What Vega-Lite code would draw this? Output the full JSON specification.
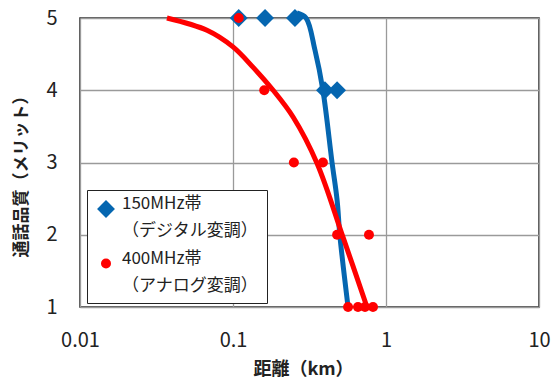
{
  "$schema": "https://vega.github.io/schema/vega-lite/v6.json",
  "width": 459,
  "height": 289,
  "autosize": {"type": "none"},
  "padding": {"left": 80, "top": 18, "right": 16, "bottom": 74},
  "background": "white",
  "config": {
    "font": "Noto Sans CJK JP",
    "view": {"stroke": "#222222", "strokeWidth": 1.5},
    "style": {"guide-label": {"lineHeight": 27}},
    "axis": {
      "domain": false,
      "ticks": false,
      "labelFlush": false,
      "gridColor": "#9a9a9a",
      "gridWidth": 1.3,
      "labelFont": "Noto Sans CJK JP",
      "labelFontSize": 20,
      "labelColor": "#222222",
      "titleFont": "Noto Sans CJK JP",
      "titleFontWeight": "bold",
      "titleColor": "#222222"
    }
  },
  "datasets": {
    "curves": [
      {"series": "150MHz帯", "km": 0.262, "merit": 5.07},
      {"series": "150MHz帯", "km": 0.300, "merit": 5.0},
      {"series": "150MHz帯", "km": 0.343, "merit": 4.56},
      {"series": "150MHz帯", "km": 0.387, "merit": 4.0},
      {"series": "150MHz帯", "km": 0.444, "merit": 3.0},
      {"series": "150MHz帯", "km": 0.479, "merit": 2.48},
      {"series": "150MHz帯", "km": 0.50, "merit": 1.98},
      {"series": "150MHz帯", "km": 0.565, "merit": 1.0},
      {"series": "400MHz帯", "km": 0.037, "merit": 5.0},
      {"series": "400MHz帯", "km": 0.0676, "merit": 4.83},
      {"series": "400MHz帯", "km": 0.100, "merit": 4.6},
      {"series": "400MHz帯", "km": 0.135, "merit": 4.32},
      {"series": "400MHz帯", "km": 0.183, "merit": 4.0},
      {"series": "400MHz帯", "km": 0.247, "merit": 3.63},
      {"series": "400MHz帯", "km": 0.354, "merit": 2.99},
      {"series": "400MHz帯", "km": 0.523, "merit": 1.97},
      {"series": "400MHz帯", "km": 0.751, "merit": 1.0}
    ],
    "points": [
      {"series": "150MHz帯", "km": 0.109, "merit": 5},
      {"series": "150MHz帯", "km": 0.162, "merit": 5},
      {"series": "150MHz帯", "km": 0.254, "merit": 5},
      {"series": "150MHz帯", "km": 0.399, "merit": 4},
      {"series": "150MHz帯", "km": 0.479, "merit": 4},
      {"series": "400MHz帯", "km": 0.109, "merit": 5},
      {"series": "400MHz帯", "km": 0.160, "merit": 4},
      {"series": "400MHz帯", "km": 0.250, "merit": 3},
      {"series": "400MHz帯", "km": 0.387, "merit": 3},
      {"series": "400MHz帯", "km": 0.479, "merit": 2},
      {"series": "400MHz帯", "km": 0.774, "merit": 2},
      {"series": "400MHz帯", "km": 0.565, "merit": 1},
      {"series": "400MHz帯", "km": 0.656, "merit": 1},
      {"series": "400MHz帯", "km": 0.729, "merit": 1},
      {"series": "400MHz帯", "km": 0.822, "merit": 1}
    ]
  },
  "encoding": {
    "x": {
      "field": "km",
      "type": "quantitative",
      "scale": {"type": "log", "domain": [0.01, 10]},
      "axis": {"values": [0.01, 0.1, 1, 10], "format": "~g", "labelPadding": 23, "title": "距離（km）", "titleFontSize": 18, "titlePadding": 10, "titleX": 223}
    },
    "y": {
      "field": "merit",
      "type": "quantitative",
      "scale": {"domain": [1, 5], "nice": false, "zero": false},
      "axis": {"values": [1, 2, 3, 4, 5], "labelPadding": 23, "title": "通話品質（メリット）", "titleFontSize": 17, "titlePadding": 15, "titleY": 154}
    }
  },
  "layer": [
    {
      "data": {"name": "curves"},
      "transform": [{"filter": "datum.series == '150MHz帯'"}],
      "mark": {"type": "line", "color": "#0566B0", "strokeWidth": 5, "interpolate": "catmull-rom", "clip": false}
    },
    {
      "data": {"name": "curves"},
      "transform": [{"filter": "datum.series == '400MHz帯'"}],
      "mark": {"type": "line", "color": "#FF0000", "strokeWidth": 5, "interpolate": "catmull-rom", "clip": false}
    },
    {
      "data": {"name": "points"},
      "mark": {"type": "point", "filled": true, "opacity": 1, "clip": false},
      "encoding": {
        "color": {
          "field": "series",
          "type": "nominal",
          "scale": {"domain": ["150MHz帯", "400MHz帯"], "range": ["#0566B0", "#FF0000"]},
          "legend": {
            "title": null,
            "orient": "none",
            "legendX": 7,
            "legendY": 172,
            "fillColor": "white",
            "strokeColor": "#222222",
            "padding": 9,
            "labelFontSize": 17,
            "labelColor": "#222222",
            "labelFont": "Noto Sans CJK JP",
            "labelBaseline": "alphabetic",
            "labelOffset": 6,
            "labelLimit": 300,
            "symbolSize": 100,
            "rowPadding": 10,
            "labelExpr": "datum.label == '150MHz帯' ? ['150MHz帯', '（デジタル変調）'] : ['400MHz帯', '（アナログ変調）']",
            "encode": {"labels": {"enter": {"lineHeight": {"value": 27}}, "update": {"lineHeight": {"value": 27}, "dy": {"value": 6}}}}
          }
        },
        "shape": {
          "field": "series",
          "type": "nominal",
          "scale": {"domain": ["150MHz帯", "400MHz帯"], "range": ["diamond", "circle"]},
          "legend": {
            "title": null,
            "orient": "none",
            "legendX": 7,
            "legendY": 172,
            "fillColor": "white",
            "strokeColor": "#222222",
            "padding": 9,
            "labelFontSize": 17,
            "labelColor": "#222222",
            "labelFont": "Noto Sans CJK JP",
            "labelBaseline": "alphabetic",
            "labelOffset": 6,
            "labelLimit": 300,
            "symbolSize": 100,
            "rowPadding": 10,
            "labelExpr": "datum.label == '150MHz帯' ? ['150MHz帯', '（デジタル変調）'] : ['400MHz帯', '（アナログ変調）']",
            "encode": {"labels": {"enter": {"lineHeight": {"value": 27}}, "update": {"lineHeight": {"value": 27}, "dy": {"value": 6}}}}
          }
        },
        "size": {
          "field": "series",
          "type": "nominal",
          "scale": {"domain": ["150MHz帯", "400MHz帯"], "range": [320, 100]},
          "legend": null
        }
      }
    }
  ]
}
